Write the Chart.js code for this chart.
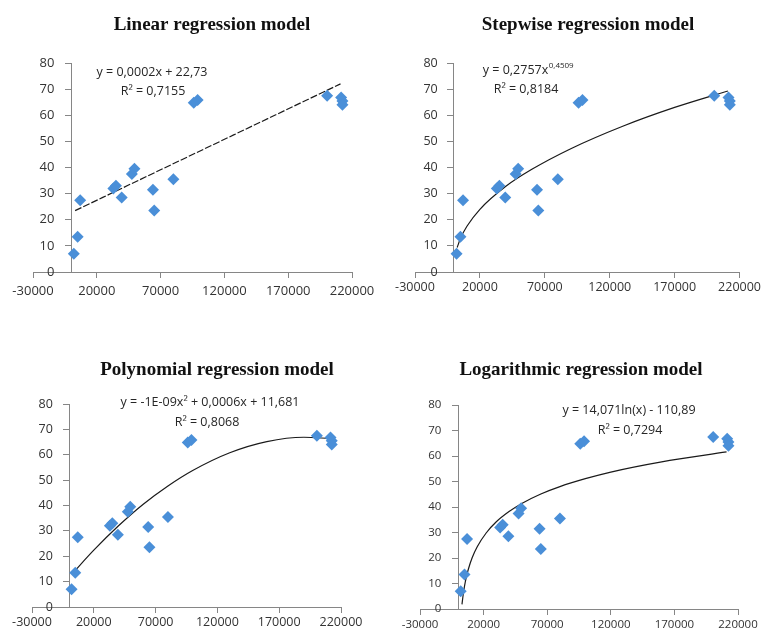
<!DOCTYPE html>
<html>
<head>
<meta charset="utf-8">
<title>Regression models</title>
<script src="https://cdn.jsdelivr.net/npm/chart.js@4.4.1/dist/chart.umd.min.js"></script>
<style>
  html, body { margin: 0; padding: 0; background: #fff; overflow: hidden; }
  .panel { position: absolute; }
  canvas { display: block; }
</style>
</head>
<body>
<div class="panel" style="left:0;top:0"><canvas id="c1" width="380" height="310"></canvas></div>
<div class="panel" style="left:380px;top:0"><canvas id="c2" width="383" height="300"></canvas></div>
<div class="panel" style="left:0;top:317px"><canvas id="c3" width="380" height="317"></canvas></div>
<div class="panel" style="left:380px;top:317px"><canvas id="c4" width="383" height="317"></canvas></div>
<script>
// measured points (same data in all 4 panels)
const xVals = [2000, 5000, 7000, 33000, 35000, 39500, 47500, 49500, 64000, 65000, 80000, 96000, 99000, 200500, 211500, 212500, 212500];
const yVals = [7, 13.5, 27.5, 32, 33, 28.5, 37.5, 39.5, 31.5, 23.5, 35.5, 64.8, 65.8, 67.5, 66.8, 65.5, 64];

// axis ticks
const xTicks = [-30000, 20000, 70000, 120000, 170000, 220000];
const yTicks = [0, 10, 20, 30, 40, 50, 60, 70, 80];

// trend lines
const linX = [3000, 211000];
const linY = [23.5, 72];

const powX = [2500, 5000, 10000, 20000, 40000, 60000, 90000, 130000, 170000, 211000];
const powY = [9.4, 12.8, 17.5, 24.0, 32.8, 39.3, 47.2, 55.8, 63.0, 69.3];

const polyX = [2500, 20000, 40000, 60000, 80000, 100000, 130000, 160000, 190000, 211000];
const polyY = [13.1, 22.4, 32.0, 40.5, 47.7, 53.8, 60.8, 65.2, 66.9, 66.4];

const logX = [3000, 4000, 5000, 6500, 8000, 11000, 15000, 22000, 30000, 40000, 50000, 65000, 80000, 100000, 120000, 160000, 211000];
const logY = [1.8, 5.8, 9.0, 12.7, 15.6, 20.1, 24.4, 29.8, 34.2, 38.2, 41.4, 45.1, 48.0, 51.1, 53.7, 57.7, 61.6];

// titles & equations
const titles = ['Linear regression model', 'Stepwise regression model', 'Polynomial regression model', 'Logarithmic regression model'];
const eqLines = [
  ['y = 0,0002x + 22,73', 'R² = 0,7155'],
  ['y = 0,2757x', 'R² = 0,8184'],
  ['y = -1E-09x² + 0,0006x + 11,681', 'R² = 0,8068'],
  ['y = 14,071ln(x) - 110,89', 'R² = 0,7294']
];
const powSup = '0,4509';

const blue = '#4A8FD8';
const axisGray = '#868686';
const labelColor = '#333333';
const sansFam = '"Open Sans", "Liberation Sans", sans-serif';
const eqFont = '12.5px ' + sansFam;
const supFont = '8px ' + sansFam;
const titleFont = 'bold 19px "Liberation Serif", "Times New Roman", serif';

function toPts(xs, ys) {
  return xs.map((x, i) => ({ x: x, y: ys[i] }));
}

// plugin: title + equation text (like the excel trendline label)
const textPlugin = {
  id: 'panelText',
  afterDatasetsDraw(chart, args, opts) {
    const ctx = chart.ctx;
    ctx.save();
    ctx.textBaseline = 'middle';
    if (opts.title) {
      ctx.font = titleFont;
      ctx.fillStyle = '#111111';
      ctx.textAlign = 'center';
      ctx.fillText(opts.title.text, opts.title.x, opts.title.y);
    }
    ctx.fillStyle = '#262626';
    (opts.lines || []).forEach(l => {
      ctx.font = eqFont;
      const w = ctx.measureText(l.text).width;
      let ws = 0;
      if (l.sup) {
        ctx.font = supFont;
        ws = ctx.measureText(l.sup).width;
      }
      const x0 = l.x - (w + ws) / 2;
      ctx.textAlign = 'left';
      ctx.font = eqFont;
      ctx.fillText(l.text, x0, l.y);
      if (l.sup) {
        ctx.font = supFont;
        ctx.fillText(l.sup, x0 + w + 0.5, l.y - 4);
      }
    });
    ctx.restore();
  }
};

// ax: {size, pad, gap} -> tick font size, x label padding, spacer after y labels
function makeChart(id, title, curveX, curveY, dash, lines, pad, ax) {
  const ctx = document.getElementById(id).getContext('2d');
  const font = { family: sansFam, size: ax.size };
  return new Chart(ctx, {
    type: 'scatter',
    data: {
      datasets: [{
        data: toPts(xVals, yVals),
        pointStyle: 'rectRot',
        pointRadius: 6,
        pointBackgroundColor: blue,
        pointBorderWidth: 0,
        showLine: false
      }, {
        data: toPts(curveX, curveY),
        showLine: true,
        pointRadius: 0,
        borderColor: '#1a1a1a',
        borderWidth: 1.2,
        borderDash: dash,
        cubicInterpolationMode: 'monotone',
        fill: false
      }]
    },
    options: {
      responsive: false,
      animation: false,
      layout: { padding: pad },
      plugins: {
        legend: { display: false },
        tooltip: { enabled: false },
        title: { display: false },
        panelText: { title: title, lines: lines }
      },
      scales: {
        x: {
          type: 'linear',
          min: xTicks[0],
          max: xTicks[xTicks.length - 1],
          afterBuildTicks: s => { s.ticks = xTicks.map(v => ({ value: v })); },
          grid: { drawOnChartArea: false, drawTicks: true, tickLength: 6, color: axisGray },
          border: { color: axisGray },
          ticks: { color: labelColor, font: font, padding: ax.pad, maxRotation: 0, autoSkip: false,
                   callback: v => String(v) }
        },
        y: {
          type: 'linear',
          position: { x: 0 },
          min: yTicks[0],
          max: yTicks[yTicks.length - 1],
          afterBuildTicks: s => { s.ticks = yTicks.map(v => ({ value: v })); },
          grid: { drawOnChartArea: false, drawTicks: true, tickLength: 6, color: axisGray },
          border: { color: axisGray },
          // labels of an axis placed at x=0 sit right on the line, so push them left with spaces
          ticks: { color: labelColor, font: font, callback: v => v + ax.gap }
        }
      }
    },
    plugins: [textPlugin]
  });
}

makeChart('c1', { text: titles[0], x: 212, y: 25 }, linX, linY, [7, 2],
  [{ text: eqLines[0][0], x: 152, y: 72 }, { text: eqLines[0][1], x: 153, y: 91 }],
  { left: 33, right: 28, top: 63, bottom: 5.4 },
  { size: 13, pad: 5.5, gap: '     ' });

makeChart('c2', { text: titles[1], x: 208, y: 25 }, powX, powY, [],
  [{ text: eqLines[1][0], sup: powSup, x: 148, y: 70 }, { text: eqLines[1][1], x: 146, y: 89 }],
  { left: 35, right: 23, top: 63, bottom: 3 },
  { size: 12.5, pad: 2, gap: '     ' });

makeChart('c3', { text: titles[2], x: 217, y: 53 }, polyX, polyY, [],
  [{ text: eqLines[2][0], x: 210, y: 85 }, { text: eqLines[2][1], x: 207, y: 105 }],
  { left: 32, right: 39, top: 87, bottom: 2 },
  { size: 12.5, pad: 2, gap: '     ' });

makeChart('c4', { text: titles[3], x: 201, y: 53 }, logX, logY, [],
  [{ text: eqLines[3][0], x: 249, y: 93 }, { text: eqLines[3][1], x: 250, y: 113 }],
  { left: 40, right: 25, top: 88, bottom: 0.2 },
  { size: 11.5, pad: 2.5, gap: '     \u2009' });
</script>
</body>
</html>
